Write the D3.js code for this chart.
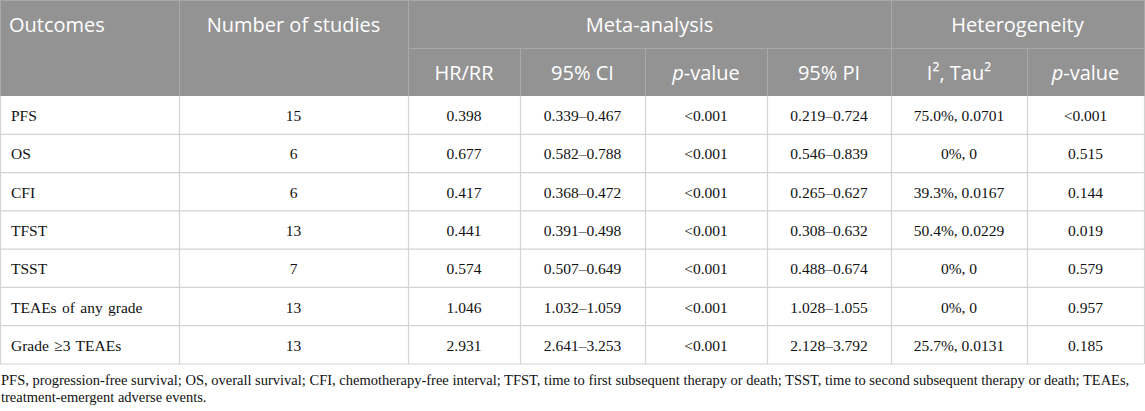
<!DOCTYPE html>
<html>
<head>
<meta charset="utf-8">
<script src="https://cdn.jsdelivr.net/npm/d3@7/dist/d3.min.js"></script>
<style>
  body { margin: 0; background: #fff; }
  svg { display: block; }
</style>
</head>
<body>
<div id="table"></div>
<script>
// table content
const outcomes = ["PFS", "OS", "CFI", "TFST", "TSST", "TEAEs of any grade", "Grade \u22653 TEAEs"];
const studies = ["15", "6", "6", "13", "7", "13", "13"];
const hrRR = ["0.398", "0.677", "0.417", "0.441", "0.574", "1.046", "2.931"];
const ci95 = ["0.339\u20130.467", "0.582\u20130.788", "0.368\u20130.472", "0.391\u20130.498", "0.507\u20130.649", "1.032\u20131.059", "2.641\u20133.253"];
const metaP = ["<0.001", "<0.001", "<0.001", "<0.001", "<0.001", "<0.001", "<0.001"];
const pi95 = ["0.219\u20130.724", "0.546\u20130.839", "0.265\u20130.627", "0.308\u20130.632", "0.488\u20130.674", "1.028\u20131.055", "2.128\u20133.792"];
const i2Tau2 = ["75.0%, 0.0701", "0%, 0", "39.3%, 0.0167", "50.4%, 0.0229", "0%, 0", "0%, 0", "25.7%, 0.0131"];
const hetP = ["<0.001", "0.515", "0.144", "0.019", "0.579", "0.957", "0.185"];

const groupHeaders = ["Meta-analysis", "Heterogeneity"];
const subHeaders = ["HR/RR", "95% CI", "p-value", "95% PI", "I\u00b2, Tau\u00b2", "p-value"];
const footnote = [
    "PFS, progression-free survival; OS, overall survival; CFI, chemotherapy-free interval; TFST, time to first subsequent therapy or death; TSST, time to second subsequent therapy or death; TEAEs,",
    "treatment-emergent adverse events."
];

// layout
const width = 1145, height = 411;
const colEdges = [0, 179, 408, 520, 645, 767, 891, 1027, 1144];
const headTop = 0, headMid = 48, headBottom = 96, tableBottom = 364;
const headFill = "#939393", headLine = "#a9a9a9", gridLine = "#d3d3d3";
const sansFont = "'Open Sans', 'Noto Sans', sans-serif";
const serifFont = "'Liberation Serif', 'Times New Roman', serif";

const svg = d3.select("#table").append("svg")
    .attr("width", width)
    .attr("height", height);

// rows through a band scale
const y = d3.scaleBand()
    .domain(outcomes)
    .range([headBottom, tableBottom]);

// header background
svg.append("rect")
    .attr("x", colEdges[0])
    .attr("y", headTop)
    .attr("width", colEdges[8] - colEdges[0])
    .attr("height", headBottom - headTop)
    .attr("fill", headFill);

// header lines
let hl = svg.append("g").attr("stroke", headLine).attr("stroke-width", 1);
hl.append("line").attr("x1", 0).attr("x2", colEdges[8]).attr("y1", 0.5).attr("y2", 0.5);
hl.append("line").attr("x1", colEdges[2]).attr("x2", colEdges[8]).attr("y1", headMid + 0.5).attr("y2", headMid + 0.5);
// vertical lines spanning both header rows
[0, 1, 2, 6, 8].forEach(i => {
    hl.append("line")
        .attr("x1", colEdges[i] + 0.5).attr("x2", colEdges[i] + 0.5)
        .attr("y1", headTop).attr("y2", headBottom);
});
// vertical lines in second header row only
[3, 4, 5, 7].forEach(i => {
    hl.append("line")
        .attr("x1", colEdges[i] + 0.5).attr("x2", colEdges[i] + 0.5)
        .attr("y1", headMid).attr("y2", headBottom);
});

// header texts
let ht = svg.append("g")
    .attr("font-family", sansFont)
    .attr("font-size", "20px")
    .attr("fill", "#fff");

ht.append("text").attr("x", 9).attr("y", 32).text("Outcomes");
ht.append("text").attr("x", (colEdges[1] + colEdges[2]) / 2).attr("y", 32)
    .attr("text-anchor", "middle").text("Number of studies");

ht.selectAll(".group")
    .data(groupHeaders)
    .enter().append("text")
    .attr("class", "group")
    .attr("x", (d, i) => i === 0 ? (colEdges[2] + colEdges[6]) / 2 : (colEdges[6] + colEdges[8]) / 2)
    .attr("y", 32)
    .attr("text-anchor", "middle")
    .text(d => d);

ht.selectAll(".sub")
    .data(subHeaders)
    .enter().append("text")
    .attr("class", "sub")
    .attr("x", (d, i) => (colEdges[i + 2] + colEdges[i + 3]) / 2)
    .attr("y", 80)
    .attr("text-anchor", "middle")
    .each(function(d) {
        let t = d3.select(this);
        if (d.startsWith("p-")) {
            t.append("tspan").attr("font-style", "italic").text("p");
            t.append("tspan").text(d.slice(1));
        } else {
            t.text(d);
        }
    });

// body grid
let gl = svg.append("g").attr("stroke", gridLine).attr("stroke-width", 1.2);
outcomes.forEach(o => {
    gl.append("line")
        .attr("x1", 0).attr("x2", colEdges[8])
        .attr("y1", y(o) + y.bandwidth()).attr("y2", y(o) + y.bandwidth());
});
colEdges.forEach(x => {
    gl.append("line")
        .attr("x1", x + 0.5).attr("x2", x + 0.5)
        .attr("y1", headBottom).attr("y2", tableBottom);
});

// body cells
const columns = [studies, hrRR, ci95, metaP, pi95, i2Tau2, hetP];

let body = svg.append("g")
    .attr("font-family", serifFont)
    .attr("font-size", "15.5px")
    .attr("fill", "#111");

body.selectAll(".outcome")
    .data(outcomes)
    .enter().append("text")
    .attr("class", "outcome")
    .attr("x", 11)
    .attr("y", d => y(d) + y.bandwidth() / 2 + 6)
    .attr("word-spacing", "1.5px")
    .text(d => d);

columns.forEach((col, c) => {
    body.selectAll(".c" + c)
        .data(col)
        .enter().append("text")
        .attr("class", "c" + c)
        .attr("x", (colEdges[c + 1] + colEdges[c + 2]) / 2)
        .attr("y", (d, i) => y(outcomes[i]) + y.bandwidth() / 2 + 6)
        .attr("text-anchor", "middle")
        .text(d => d);
});

// footnote
svg.append("g")
    .attr("font-family", serifFont)
    .attr("font-size", "14.5px")
    .attr("fill", "#111")
    .selectAll("text")
    .data(footnote)
    .enter().append("text")
    .attr("x", 1)
    .attr("y", (d, i) => 385 + i * 17)
    .text(d => d);
</script>
</body>
</html>
